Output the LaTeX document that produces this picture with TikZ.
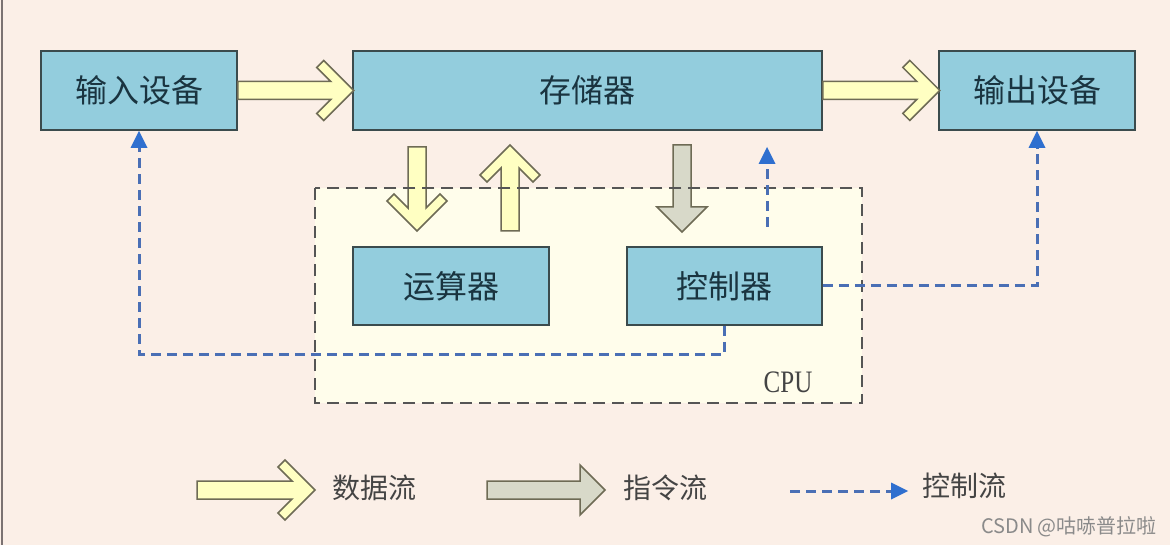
\documentclass[tikz,border=0pt]{standalone}
\usepackage{fontspec}
\setmainfont{Liberation Serif}
\newfontfamily\cjk{Noto Sans CJK SC}
\usetikzlibrary{arrows.meta}
\definecolor{bg}{HTML}{FBEFE7}
\definecolor{boxfill}{HTML}{93CDDD}
\definecolor{boxline}{HTML}{3B4B4D}
\definecolor{boxtext}{HTML}{1A3440}
\definecolor{datafill}{HTML}{FFFFC2}
\definecolor{dataline}{HTML}{6E6B55}
\definecolor{instfill}{HTML}{D8D9C9}
\definecolor{cpufill}{HTML}{FFFDEB}
\definecolor{cpuline}{HTML}{555555}
\definecolor{ctrlline}{HTML}{4A6FB5}
\definecolor{ctrlhead}{HTML}{2F6FCF}
\definecolor{legtext}{HTML}{444444}
\definecolor{wmtext}{HTML}{8A8A8A}
\definecolor{edge}{HTML}{7B7272}
\tikzset{
  unitbox/.style={draw=boxline, line width=1.6pt, fill=boxfill, text=boxtext,
    font=\cjk\fontsize{32}{38}\selectfont, inner sep=0pt},
  ctrl/.style={draw=ctrlline, line width=3pt, dash pattern=on 10pt off 6pt,
    -{Triangle[width=17pt,length=17pt,fill=ctrlhead,line width=0pt]}},
  legend/.style={text=legtext, font=\cjk\fontsize{28}{33}\selectfont, inner sep=0pt},
  pics/dataarrow/.style={code={
    \filldraw[fill=datafill, draw=dataline, line width=1.5pt, line join=miter]
      (0,9) -- ({#1-23},9) -- ({#1-37},23) -- ({#1-30},30) -- (#1,0)
      -- ({#1-30},-30) -- ({#1-37},-23) -- ({#1-23},-9) -- (0,-9) -- cycle;
  }},
  pics/instarrow/.style={code={
    \filldraw[fill=instfill, draw=dataline, line width=1.5pt, line join=miter]
      (0,9) -- ({#1-25},9) -- ({#1-25},25) -- (#1,0)
      -- ({#1-25},-25) -- ({#1-25},-9) -- (0,-9) -- cycle;
  }},
}
\begin{document}
\begin{tikzpicture}[x=1pt, y=-1pt]
\useasboundingbox (0,0) rectangle (1170,545);
\fill[bg] (0,0) rectangle (1170,545);
\draw[edge, line width=2.5pt] (2,0) -- (2,545);

% CPU area (fill)
\node[fill=cpufill, minimum width=547pt, minimum height=215pt, inner sep=0pt] (cpu) at (588.5,295.5) {};

% units
\node[unitbox, minimum width=196pt, minimum height=79pt] (in) at (139,90.5) {输入设备};
\node[unitbox, minimum width=469pt, minimum height=79pt] (mem) at (587.5,90.5) {存储器};
\node[unitbox, minimum width=196pt, minimum height=79pt] (out) at (1037,90.5) {输出设备};
\node[unitbox, minimum width=196pt, minimum height=78pt] (alu) at (451,286) {运算器};
\node[unitbox, minimum width=195pt, minimum height=78pt] (cu) at (724.5,286) {控制器};

% data flow arrows
\pic at (in.east) {dataarrow=116};
\pic at (mem.east) {dataarrow=117};
\pic[rotate=-90] at (417,147) {dataarrow=84};
\pic[rotate=90] at (510,231) {dataarrow=86};
% instruction flow
\pic[rotate=-90] at (682,145) {instarrow=87};

% CPU border on top
\draw[cpuline, line width=1.8pt, dash pattern=on 12pt off 7pt] (cpu.north west) rectangle (cpu.south east);
\node[font=\fontsize{25}{30}\selectfont, text=legtext, inner sep=0pt, yscale=1.25] (cpulabel) at (788,382) {CPU};

% control flow
\coordinate (cs) at (767,227);
\coordinate (ce) at (767,147);
\draw[ctrl] (cs) -- (ce);
\draw[ctrl] (cu.south) -- (cu.south |- 0,354) -| (in.south);
\draw[ctrl] (cu.east) -| (out.south);

% legend
\pic at (197,490) {dataarrow=118};
\node[legend] (l1) at (374,488) {数据流};
\pic at (487,490) {instarrow=118};
\node[legend] (l2) at (665,488) {指令流};
\coordinate (l3s) at (790,491);
\coordinate (l3e) at (908,491);
\draw[ctrl] (l3s) -- (l3e);
\node[legend] (l3) at (964,486) {控制流};

% watermark
\node[text=wmtext, font=\cjk\fontsize{20}{24}\selectfont, inner sep=0pt] (wm) at (1069,527) {CSDN @咕哧普拉啦};
\end{tikzpicture}
\end{document}
